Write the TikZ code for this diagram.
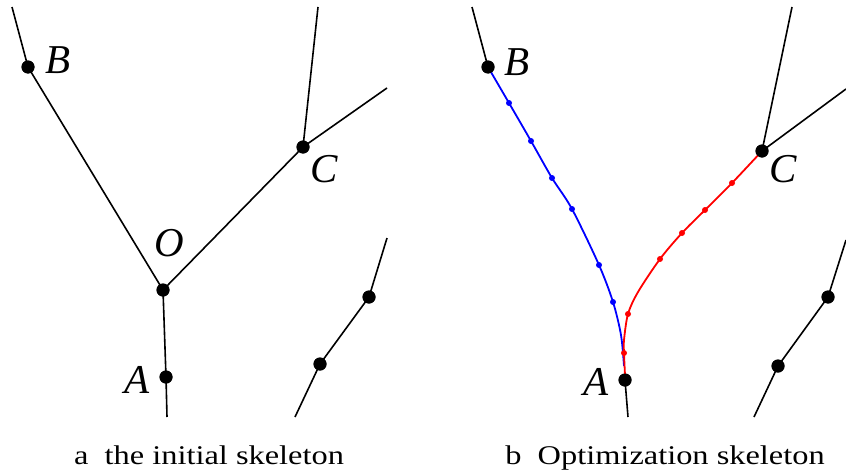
\documentclass[tikz,border=0pt]{standalone}
\usepackage{fontspec}
\setmainfont{Liberation Serif}
\usepackage{xcolor}
\usepackage{tikz}
\usetikzlibrary{calc}

\begin{document}
\begin{tikzpicture}[
    x=1pt, y=-1pt,
    edge/.style={line width=1.6pt, black},
    dot/.style={circle, fill=black, inner sep=0pt, minimum size=13pt},
    pt/.style={circle, inner sep=0pt, minimum size=6pt},
    lbl/.style={font=\fontsize{41}{41}\selectfont\itshape, inner sep=0pt},
    caption/.style={font=\fontsize{27}{30}\selectfont, anchor=base, inner sep=0pt, xscale=1.2, transform shape},
    bpath/.style={line width=1.8pt, blue},
    rpath/.style={line width=1.8pt, red},
]
    \useasboundingbox (0,0) rectangle (846,471);

    % (a) initial skeleton
    \coordinate (aTopL) at (12,7);
    \node[dot] (aB) at (28,67) {};
    \node[dot] (aO) at (163,290) {};
    \node[dot] (aA) at (166,377) {};
    \coordinate (aBot) at (167,417);
    \coordinate (aTopR) at (318,7);
    \node[dot] (aC) at (303,147) {};
    \coordinate (aEndR) at (387,88);
    \coordinate (aLowTop) at (387,238);
    \node[dot] (aP1) at (369,297) {};
    \node[dot] (aP2) at (320,364) {};
    \coordinate (aLowBot) at (295,417);

    \draw[edge] (aTopL) -- (aB.center) -- (aO.center) -- (aA.center) -- (aBot);
    \draw[edge] (aO.center) -- (aC.center) -- (aTopR);
    \draw[edge] (aC.center) -- (aEndR);
    \draw[edge] (aLowTop) -- (aP1.center) -- (aP2.center) -- (aLowBot);
    \foreach \n in {aB,aO,aA,aC,aP1,aP2} \node[dot] at (\n) {};

    \node[lbl] (aBl) at (58,60) {B};
    \node[lbl] (aOl) at (169,243) {O};
    \node[lbl] (aCl) at (324,169) {C};
    \node[lbl] (aAl) at (137,380) {A};

    % (b) optimization skeleton
    \coordinate (bTopL) at (472,7);
    \node[dot] (bB) at (488,67) {};
    \node[dot] (bA) at (625,380) {};
    \coordinate (bBot) at (628,417);
    \coordinate (bTopR) at (792,7);
    \node[dot] (bC) at (762,151) {};
    \coordinate (bEndR) at (846,89);
    \coordinate (bLowTop) at (846,240);
    \node[dot] (bP1) at (828,297) {};
    \node[dot] (bP2) at (778,366) {};
    \coordinate (bLowBot) at (754,417);

    \draw[edge] (bTopL) -- (bB.center);
    \draw[edge] (bA.center) -- (bBot);
    \draw[edge] (bTopR) -- (bC.center) -- (bEndR);
    \draw[edge] (bLowTop) -- (bP1.center) -- (bP2.center) -- (bLowBot);

    % optimized paths
    \draw[bpath] plot[smooth, tension=0.5] coordinates {(488,67) (509,103) (531,141) (552,178) (572,209) (599,265) (613,302) (621,335) (624,366)};
    \draw[rpath] plot[smooth, tension=0.5] coordinates {(762,151) (732,183) (705,210) (682,233) (660,259) (638,292) (628,314) (624,340) (624,353) (625,375)};
    \foreach \p in {(509,103),(531,141),(552,178),(572,209),(599,265),(613,302)}
        \node[pt, fill=blue] at \p {};
    \foreach \p in {(732,183),(705,210),(682,233),(660,259),(628,314),(624,353)}
        \node[pt, fill=red] at \p {};
    \foreach \n in {bB,bA,bC,bP1,bP2} \node[dot] at (\n) {};

    \node[lbl] (bBl) at (517,62) {B};
    \node[lbl] (bCl) at (783,169) {C};
    \node[lbl] (bAl) at (596,382) {A};

    % captions
    \node[caption] (capa) at (209,464) {a\ \ the initial skeleton};
    \node[caption] (capb) at (665,464) {b\ \ Optimization skeleton};
\end{tikzpicture}
\end{document}
